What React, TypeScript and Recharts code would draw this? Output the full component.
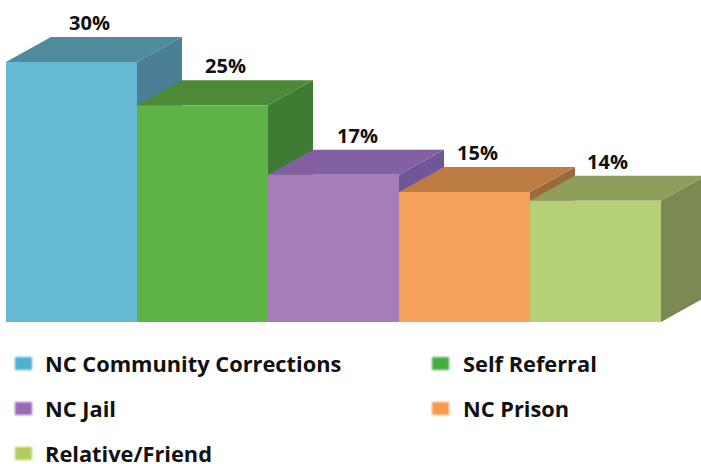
import { BarChart, Bar, XAxis, YAxis, Legend, LabelList, Cell } from 'recharts';

const categories = ['NC Community Corrections', 'Self Referral', 'NC Jail', 'NC Prison', 'Relative/Friend'];
const values = [30, 25, 17, 15, 14];

const frontColors = ['#66BAD3', '#5DB346', '#A57DB8', '#F6A25C', '#B6D078'];
const topColors = ['#4F8A9E', '#4C8A38', '#8460A3', '#BC7C42', '#8D9F5B'];
const sideColors = ['#4A7F95', '#3D7C32', '#6F569B', '#9A6A3C', '#7B8A52'];
const swatchColors = ['#4DB1D2', '#45AE42', '#9A6BB5', '#F79A4C', '#B0CC5E'];
const labelShiftX = [18, 23, 24, 13, 12];

const DEPTH_X = 45;
const DEPTH_Y = 25;
const FONT = '"Open Sans", sans-serif';

const data = categories.map((name, i) => ({ name, value: values[i] }));

// 3D box: front face comes from the scales, top and side are offset by the depth
function Box3D(props: any) {
  const { x, y, width, height, index } = props;
  const r = x + width;
  const b = y + height;
  return (
    <g>
      <polygon
        points={`${r},${y} ${r + DEPTH_X},${y - DEPTH_Y} ${r + DEPTH_X},${b - DEPTH_Y} ${r},${b}`}
        fill={sideColors[index]}
      />
      <polygon
        points={`${x},${y} ${x + DEPTH_X},${y - DEPTH_Y} ${r + DEPTH_X},${y - DEPTH_Y} ${r},${y}`}
        fill={topColors[index]}
      />
      <rect x={x} y={y} width={width} height={height} fill={frontColors[index]} />
    </g>
  );
}

function PctLabel(props: any) {
  const { x, y, width, value, index } = props;
  return (
    <text
      x={x + width / 2 + labelShiftX[index]}
      y={y - 32}
      textAnchor="middle"
      fontFamily={FONT}
      fontWeight={700}
      fontSize={20}
      fill="#111"
    >
      {value}%
    </text>
  );
}

function LegendBox() {
  return (
    <div
      style={{
        position: 'absolute',
        left: 0,
        top: 341,
        width: 701,
        display: 'grid',
        gridTemplateColumns: '432px 269px',
        gridAutoRows: '45px',
        fontFamily: FONT,
        fontWeight: 700,
        fontSize: 21.8,
        lineHeight: '20px',
        color: '#111',
      }}
    >
      {categories.map((name, i) => (
        <div key={name} style={{ display: 'flex', alignItems: 'center', whiteSpace: 'nowrap' }}>
          <span
            style={{
              display: 'inline-block',
              width: 17,
              height: 13,
              marginLeft: i % 2 ? 0 : 15,
              marginRight: i % 2 ? 14 : 13,
              background: swatchColors[i],
              filter: 'blur(0.8px)',
            }}
          />
          {name}
        </div>
      ))}
    </div>
  );
}

export default function App() {
  return (
    <div style={{ position: 'absolute', left: 0, top: 0, width: 701, height: 464, overflow: 'hidden', background: '#fff' }}>
      <BarChart
        width={701}
        height={464}
        data={data}
        barCategoryGap={0}
        margin={{ top: 62, right: 40, bottom: 142, left: 6 }}
      >
        <XAxis dataKey="name" hide />
        <YAxis hide domain={[0, 30]} />
        <Legend content={() => <LegendBox />} wrapperStyle={{ left: 0, top: 0, bottom: 'auto', width: 701 }} />
        <Bar dataKey="value" isAnimationActive={false} shape={Box3D}>
          {data.map((d, i) => (
            <Cell key={d.name} fill={frontColors[i]} />
          ))}
          <LabelList dataKey="value" content={PctLabel} />
        </Bar>
      </BarChart>
    </div>
  );
}
